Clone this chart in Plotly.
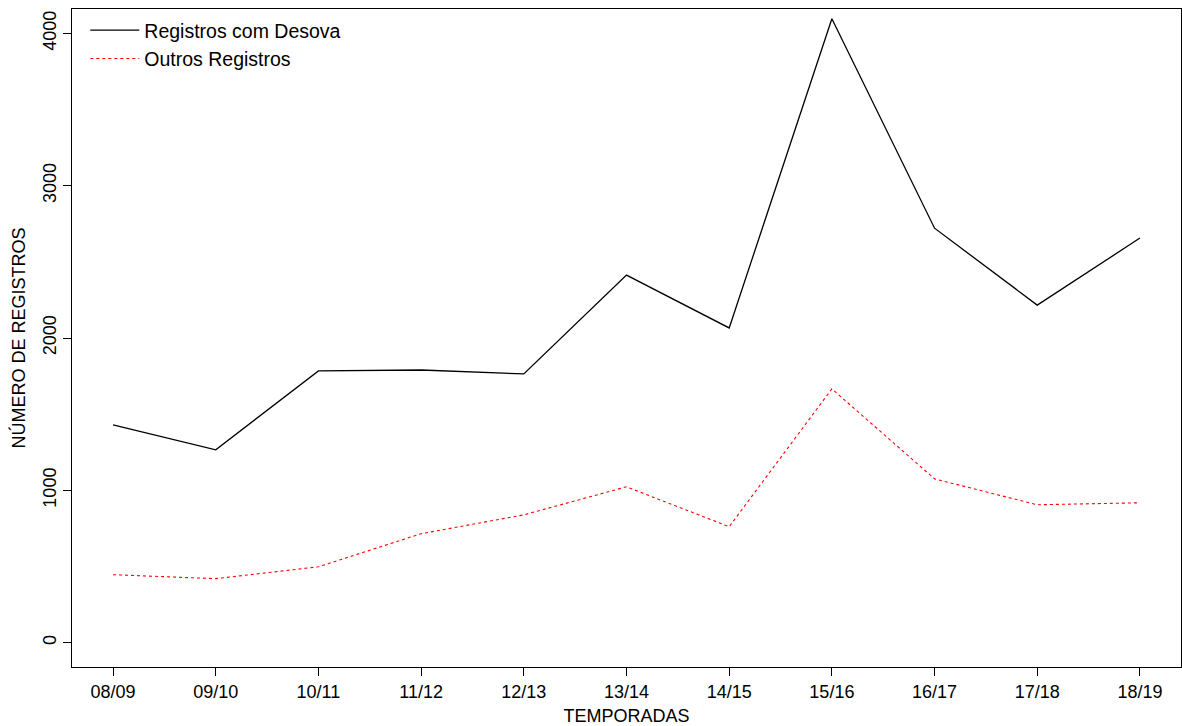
import plotly.graph_objects as go

temporadas = ["08/09", "09/10", "10/11", "11/12", "12/13", "13/14",
              "14/15", "15/16", "16/17", "17/18", "18/19"]
com_desova = [1430, 1266, 1784, 1790, 1764, 2413, 2066, 4096, 2721, 2216, 2656]
outros = [446, 420, 498, 715, 839, 1023, 761, 1666, 1075, 905, 918]

fonte = "Liberation Sans, Arial, Helvetica, sans-serif"

fig = go.Figure()
fig.add_trace(go.Scatter(x=temporadas, y=com_desova, mode="lines",
                         name="Registros com Desova",
                         line=dict(color="black", width=1.3)))
fig.add_trace(go.Scatter(x=temporadas, y=outros, mode="lines",
                         name="Outros Registros",
                         line=dict(color="red", width=1.1, dash="3px,3px")))

eixo = dict(showline=True, mirror=True, linecolor="black", linewidth=1,
            ticks="outside", ticklen=8, tickcolor="black", tickwidth=1,
            showgrid=False, zeroline=False,
            tickfont=dict(size=18, color="black", family=fonte))

fig.update_layout(
    width=1182, height=726,
    margin=dict(l=72, r=1, t=9, b=59),
    paper_bgcolor="white", plot_bgcolor="white",
    font=dict(family=fonte, color="black"),
    showlegend=True,
    legend=dict(x=0.012, y=0.997, xanchor="left", yanchor="top",
                itemwidth=49, bgcolor="rgba(0,0,0,0)", font=dict(size=19.5)),
    xaxis=dict(eixo, range=[-0.4, 10.4],
               title=dict(text="TEMPORADAS", font=dict(size=18), standoff=9)),
    yaxis=dict(eixo, range=[-160, 4160], tickvals=[0, 1000, 2000, 3000, 4000],
               tickangle=-90,
               title=dict(text="NÚMERO DE REGISTROS", font=dict(size=18), standoff=9)),
)

# página sem margem do body, para a figura ocupar a janela inteira
fig.write_html("out.html", config={"displayModeBar": False},
               post_script="document.body.style.margin='0';")
